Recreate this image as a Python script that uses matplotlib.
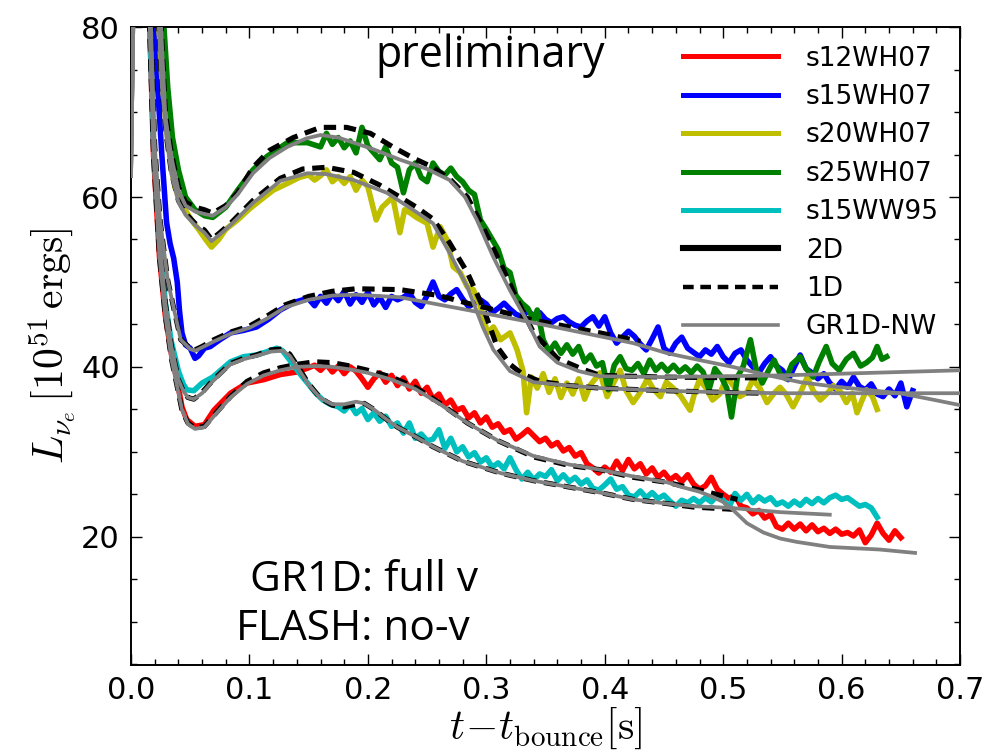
import matplotlib
matplotlib.use('Agg')
import matplotlib.pyplot as plt
from matplotlib.lines import Line2D
from matplotlib.ticker import MultipleLocator

plt.rcParams['mathtext.fontset'] = 'cm'
plt.rcParams['font.family'] = 'DejaVu Sans'

# --- Data: (t - t_bounce [s], L_nue [1e51 erg/s]) ---
LABELS = ['s12WH07', 's15WH07', 's20WH07', 's25WH07', 's15WW95']
COLORS = ['r', 'b', 'y', 'g', 'c']

# s12WH07
S12_2D = [(0.015, 84), (0.019, 65), (0.024, 53), (0.029, 46), (0.034, 41.6), (0.040, 37.6), (0.043, 35.3),
          (0.047, 33.8), (0.054, 33.0), (0.062, 33.2), (0.070, 34.9), (0.084, 36.9), (0.098, 38.1), (0.112, 38.5),
          (0.126, 39.1), (0.140, 39.4), (0.150, 39.9),
          (0.155, 40.2), (0.160, 39.6), (0.165, 40.3), (0.170, 39.4), (0.175, 40.1), (0.180, 39.2), (0.185, 40.0),
          (0.190, 39.5), (0.195, 38.6), (0.200, 37.6), (0.205, 38.6), (0.210, 39.3), (0.215, 38.2), (0.220, 39.0),
          (0.225, 37.8), (0.230, 38.7), (0.235, 37.4), (0.240, 38.3), (0.245, 36.9), (0.250, 37.6), (0.255, 36.2),
          (0.260, 36.8), (0.265, 35.5), (0.270, 36.1), (0.275, 34.9), (0.280, 35.2), (0.285, 34.0), (0.290, 34.6),
          (0.295, 33.4), (0.300, 34.1), (0.305, 32.9), (0.310, 33.3), (0.315, 32.3), (0.320, 32.6), (0.325, 31.5),
          (0.330, 32.0), (0.335, 32.6), (0.340, 31.9), (0.345, 31.2), (0.350, 31.6), (0.355, 30.7), (0.360, 31.1),
          (0.365, 30.1), (0.370, 30.5), (0.375, 29.5), (0.380, 29.9), (0.385, 28.6), (0.390, 28.1), (0.395, 27.5),
          (0.400, 28.2), (0.405, 27.6), (0.410, 28.9), (0.415, 27.8), (0.420, 29.1), (0.425, 28.0), (0.430, 28.6),
          (0.435, 27.4), (0.440, 28.1), (0.445, 27.0), (0.450, 27.6), (0.455, 26.7), (0.460, 27.2), (0.465, 26.5),
          (0.470, 27.3), (0.475, 26.2), (0.480, 25.6), (0.485, 26.0), (0.490, 27.0), (0.495, 25.6), (0.500, 25.0),
          (0.505, 24.5), (0.510, 24.9), (0.515, 23.6), (0.520, 23.4), (0.525, 22.7), (0.530, 23.1), (0.535, 22.2),
          (0.540, 22.6), (0.545, 21.2), (0.550, 20.9), (0.555, 21.6), (0.560, 20.9), (0.565, 21.5), (0.570, 20.7),
          (0.575, 21.4), (0.580, 20.6), (0.585, 21.0), (0.590, 20.4), (0.595, 20.9), (0.600, 20.3), (0.605, 20.5),
          (0.610, 20.1), (0.615, 20.8), (0.620, 19.3), (0.625, 20.2), (0.630, 21.6), (0.635, 20.4), (0.640, 19.6),
          (0.645, 20.7), (0.650, 19.9)]
S12_1D = [(0.015, 84), (0.019, 65), (0.024, 53), (0.029, 46), (0.034, 41), (0.040, 37), (0.043, 34.9), (0.048, 33.4),
          (0.054, 32.8), (0.062, 33.0), (0.070, 34.3), (0.084, 36.5), (0.098, 38.3), (0.112, 39.3), (0.126, 39.9),
          (0.140, 40.3), (0.155, 40.6), (0.170, 40.5), (0.185, 40.1), (0.200, 39.6), (0.220, 38.8), (0.240, 37.6),
          (0.260, 35.8), (0.284, 33.4), (0.310, 31.3), (0.340, 29.4), (0.370, 28.4), (0.396, 27.9), (0.424, 27.0),
          (0.453, 26.4), (0.480, 25.5), (0.500, 24.8), (0.512, 24.4)]
S12_GR = [(0.0, 62.5), (0.004, 100), (0.015, 84), (0.019, 65), (0.024, 53), (0.029, 46), (0.034, 41), (0.040, 37),
          (0.043, 35.0), (0.048, 33.3), (0.054, 32.7), (0.062, 32.9), (0.070, 34.2), (0.084, 36.4), (0.098, 38.0),
          (0.112, 39.0), (0.126, 39.6), (0.140, 40.0), (0.155, 40.1), (0.170, 40.0), (0.185, 39.7), (0.200, 39.3),
          (0.220, 38.5), (0.240, 37.4), (0.260, 35.7), (0.284, 33.4), (0.310, 31.3), (0.340, 29.5), (0.370, 28.5),
          (0.396, 27.9), (0.424, 27.1), (0.453, 26.4), (0.464, 25.9), (0.480, 25.3), (0.491, 24.7), (0.500, 24.1),
          (0.508, 23.2), (0.520, 21.6), (0.534, 20.5), (0.548, 19.8), (0.562, 19.4), (0.590, 18.8), (0.632, 18.5),
          (0.662, 18.1)]

# s15WH07
S15_2D = [(0.017, 84), (0.022, 74), (0.026, 65), (0.030, 57), (0.033, 54.5), (0.036, 52.8), (0.039, 50),
          (0.041, 46.5), (0.043, 44), (0.046, 42.6), (0.050, 42.2), (0.054, 41.0), (0.057, 41.3), (0.062, 42.2),
          (0.067, 42.4), (0.075, 43.2), (0.084, 44.0), (0.095, 44.3), (0.106, 44.7), (0.116, 45.6), (0.126, 46.7),
          (0.138, 47.6), (0.145, 47.9),
          (0.150, 48.0), (0.155, 47.2), (0.160, 48.3), (0.165, 47.5), (0.170, 48.6), (0.175, 47.8), (0.180, 48.9),
          (0.185, 47.4), (0.190, 48.5), (0.195, 47.6), (0.200, 48.8), (0.205, 47.3), (0.210, 48.2), (0.215, 47.0),
          (0.220, 48.3), (0.225, 47.9), (0.230, 48.2), (0.235, 48.7), (0.240, 47.6), (0.245, 47.1), (0.250, 48.4),
          (0.255, 50.0), (0.260, 48.3), (0.265, 47.9), (0.270, 48.6), (0.275, 49.1), (0.280, 48.0), (0.285, 47.1),
          (0.290, 47.5), (0.295, 47.9), (0.300, 47.4), (0.305, 46.4), (0.310, 46.9), (0.315, 47.5), (0.320, 46.8),
          (0.325, 46.2), (0.330, 45.9), (0.335, 46.6), (0.340, 46.0), (0.345, 46.4), (0.350, 45.6), (0.355, 45.2),
          (0.360, 45.7), (0.365, 45.9), (0.370, 45.3), (0.375, 44.9), (0.380, 44.7), (0.385, 45.4), (0.390, 45.9),
          (0.395, 44.8), (0.400, 45.9), (0.405, 44.0), (0.410, 42.8), (0.415, 43.5), (0.420, 44.2), (0.425, 43.6),
          (0.430, 42.7), (0.435, 42.0), (0.440, 43.3), (0.445, 44.7), (0.450, 42.2), (0.455, 41.6), (0.460, 42.8),
          (0.465, 43.5), (0.470, 42.2), (0.475, 41.7), (0.480, 41.2), (0.485, 42.0), (0.490, 41.5), (0.495, 42.4),
          (0.500, 41.2), (0.505, 40.5), (0.510, 41.6), (0.515, 42.0), (0.520, 40.8), (0.525, 40.0), (0.530, 39.3),
          (0.535, 40.4), (0.540, 41.2), (0.545, 40.1), (0.550, 39.6), (0.555, 38.5), (0.560, 40.0), (0.565, 41.4),
          (0.570, 39.8), (0.575, 39.3), (0.580, 38.6), (0.585, 39.2), (0.590, 38.1), (0.595, 37.4), (0.600, 38.3),
          (0.605, 37.6), (0.610, 38.8), (0.615, 37.7), (0.620, 37.3), (0.625, 38.0), (0.630, 36.8), (0.635, 36.5),
          (0.640, 37.4), (0.645, 36.6), (0.650, 38.1), (0.655, 35.3), (0.660, 37.2)]
S15_1D = [(0.016, 84), (0.020, 66), (0.0245, 57.3), (0.031, 50.2), (0.037, 46.3), (0.042, 43.2), (0.050, 42.2),
          (0.054, 42.0), (0.060, 42.4), (0.070, 43.2), (0.084, 44.1), (0.100, 44.8), (0.115, 46.0), (0.130, 47.3),
          (0.150, 48.3), (0.170, 48.9), (0.190, 49.2), (0.227, 49.1), (0.260, 48.4), (0.284, 47.5), (0.310, 46.6),
          (0.340, 45.5), (0.370, 44.7), (0.396, 44.0), (0.430, 43.0)]
S15_GR = [(0.0, 62.5), (0.004, 100), (0.016, 84), (0.020, 66), (0.0245, 57.3), (0.031, 50.2), (0.037, 46.3),
          (0.042, 43.2), (0.050, 42.1), (0.054, 41.9), (0.060, 42.3), (0.070, 43.0), (0.084, 43.9), (0.100, 44.6),
          (0.115, 45.7), (0.130, 47.0), (0.150, 47.9), (0.170, 48.4), (0.190, 48.5), (0.227, 48.2), (0.284, 46.7),
          (0.340, 45.2), (0.396, 43.6), (0.424, 42.8), (0.453, 41.6), (0.480, 40.8), (0.508, 40.0), (0.535, 39.1),
          (0.565, 38.2), (0.593, 37.7), (0.621, 37.3), (0.649, 36.9), (0.675, 36.2), (0.700, 35.5)]

# s20WH07
S20_2D = [(0.022, 84), (0.026, 74), (0.030, 68), (0.034, 63.5), (0.037, 61.2), (0.042, 59.3), (0.051, 57.3),
          (0.057, 56.2), (0.063, 55.0), (0.068, 54.1), (0.074, 55.0), (0.080, 56.2), (0.090, 57.3), (0.100, 58.6),
          (0.109, 59.6), (0.120, 60.8), (0.132, 61.6), (0.142, 62.3),
          (0.150, 62.6), (0.155, 62.0), (0.160, 62.5), (0.165, 63.2), (0.170, 61.8), (0.175, 62.4), (0.180, 61.6),
          (0.185, 62.4), (0.190, 60.8), (0.195, 62.0), (0.200, 61.2), (0.207, 57.3), (0.212, 58.8), (0.221, 60.0),
          (0.227, 55.8), (0.231, 58.5), (0.236, 58.1), (0.241, 57.6), (0.250, 56.9), (0.255, 54.1), (0.261, 56.5),
          (0.267, 54.9), (0.272, 51.8), (0.278, 51.1), (0.284, 49.4), (0.289, 49.1), (0.295, 47.1), (0.301, 44.0),
          (0.306, 44.7), (0.312, 43.2), (0.320, 44.0), (0.326, 42.0), (0.331, 39.5), (0.334, 34.6), (0.338, 38.8),
          (0.343, 37.5), (0.348, 39.2), (0.353, 37.0), (0.358, 38.6), (0.363, 36.4), (0.368, 38.1), (0.373, 36.8),
          (0.378, 38.6), (0.383, 36.2), (0.388, 37.9), (0.396, 39.3), (0.402, 36.5), (0.407, 38.0), (0.413, 39.6),
          (0.418, 37.2), (0.424, 35.8), (0.430, 37.0), (0.436, 38.6), (0.441, 37.4), (0.447, 36.5), (0.452, 38.2),
          (0.457, 37.6), (0.464, 36.6), (0.472, 34.9), (0.476, 37.0), (0.480, 38.5), (0.486, 37.4), (0.491, 36.1),
          (0.497, 36.8), (0.503, 38.8), (0.509, 37.7), (0.514, 36.5), (0.520, 37.0), (0.525, 38.5), (0.531, 37.5),
          (0.537, 35.8), (0.543, 36.9), (0.548, 37.6), (0.553, 36.8), (0.559, 35.3), (0.565, 36.9), (0.571, 38.8),
          (0.576, 37.2), (0.582, 36.1), (0.588, 36.9), (0.593, 37.8), (0.599, 37.1), (0.604, 35.8), (0.609, 36.9),
          (0.613, 34.6), (0.617, 36.0), (0.621, 37.3), (0.626, 36.5), (0.630, 35.0)]
S20_1D = [(0.022, 84), (0.026, 73), (0.030, 67), (0.034, 63), (0.040, 59.6), (0.046, 58.1), (0.054, 56.9),
          (0.062, 56.1), (0.068, 55.0), (0.075, 55.8), (0.084, 56.9), (0.103, 59.6), (0.126, 62.2), (0.145, 63.3),
          (0.165, 63.5), (0.188, 62.9), (0.210, 61.4), (0.227, 60.0), (0.241, 58.8), (0.255, 57.4), (0.269, 54.6),
          (0.284, 51.1), (0.297, 47.1), (0.309, 42.4), (0.320, 40.3), (0.330, 39.2), (0.345, 38.3), (0.370, 37.8),
          (0.396, 37.5), (0.450, 37.2), (0.500, 37.0), (0.534, 36.9)]
S20_GR = [(0.0, 62.5), (0.004, 100), (0.022, 84), (0.026, 73), (0.030, 67), (0.034, 62.8), (0.040, 59.4),
          (0.046, 57.9), (0.054, 56.7), (0.062, 55.8), (0.068, 54.8), (0.075, 55.6), (0.084, 56.7), (0.103, 59.3),
          (0.126, 61.9), (0.149, 62.8), (0.165, 62.7), (0.188, 62.0), (0.216, 60.5), (0.238, 58.5), (0.255, 56.9),
          (0.269, 53.4), (0.284, 49.4), (0.297, 44.7), (0.306, 42.0), (0.320, 39.5), (0.340, 38.2), (0.370, 37.8),
          (0.396, 37.5), (0.450, 37.2), (0.500, 37.0), (0.550, 36.9), (0.600, 36.9), (0.650, 36.9), (0.700, 36.9)]

# s25WH07
S25_2D = [(0.026, 84), (0.031, 72.9), (0.035, 67), (0.040, 63.2), (0.046, 60), (0.054, 58.5), (0.062, 57.8),
          (0.069, 57.6), (0.080, 58.8), (0.090, 60.8), (0.103, 63.2), (0.115, 64.8), (0.132, 66.4), (0.149, 66.4),
          (0.160, 65.9), (0.165, 67.5), (0.170, 66.2), (0.175, 67.0), (0.180, 65.8), (0.185, 66.6), (0.190, 65.2),
          (0.195, 68.2), (0.200, 66.0), (0.205, 65.2), (0.210, 64.4), (0.215, 65.9), (0.220, 64.0), (0.225, 63.5),
          (0.230, 60.5), (0.235, 63.2), (0.240, 64.0), (0.245, 62.3), (0.250, 61.8), (0.255, 64.0), (0.260, 63.0),
          (0.265, 62.6), (0.270, 63.4), (0.275, 62.4), (0.280, 61.8), (0.285, 60.8), (0.290, 60.3), (0.295, 57.3),
          (0.300, 56.2), (0.305, 55.0), (0.310, 53.8), (0.315, 51.6), (0.320, 51.1), (0.325, 48.4), (0.330, 47.5),
          (0.335, 46.9), (0.340, 45.5), (0.343, 46.7), (0.348, 43.2), (0.353, 41.8), (0.358, 42.8), (0.363, 41.6),
          (0.368, 42.6), (0.373, 41.5), (0.378, 42.4), (0.383, 40.6), (0.388, 41.4), (0.393, 40.1), (0.398, 40.5),
          (0.403, 37.3), (0.408, 40.2), (0.413, 41.2), (0.418, 39.8), (0.423, 39.6), (0.428, 40.4), (0.433, 39.2),
          (0.438, 40.8), (0.443, 39.6), (0.448, 40.3), (0.453, 39.5), (0.458, 40.2), (0.463, 39.4), (0.468, 40.0),
          (0.473, 39.3), (0.478, 40.1), (0.483, 39.4), (0.488, 37.3), (0.493, 39.8), (0.498, 38.9), (0.503, 37.5),
          (0.507, 34.1), (0.512, 38.8), (0.517, 40.1), (0.523, 43.2), (0.528, 39.6), (0.533, 38.1), (0.538, 39.5),
          (0.543, 40.8), (0.548, 39.2), (0.553, 38.6), (0.558, 40.3), (0.565, 41.2), (0.570, 39.8), (0.576, 38.8),
          (0.581, 40.6), (0.587, 42.4), (0.592, 40.4), (0.598, 39.6), (0.604, 40.9), (0.610, 41.6), (0.616, 40.1),
          (0.621, 40.5), (0.626, 41.1), (0.630, 42.4), (0.634, 40.9), (0.638, 41.2)]
S25_1D = [(0.024, 84), (0.029, 69.9), (0.034, 65.2), (0.040, 61.2), (0.046, 59.4), (0.054, 58.8), (0.062, 58.5),
          (0.069, 58.1), (0.080, 59.0), (0.090, 60.5), (0.103, 63.5), (0.117, 65.5), (0.137, 67.0), (0.160, 68.2),
          (0.182, 68.2), (0.202, 67.5), (0.221, 65.9), (0.238, 64.6), (0.255, 63.5), (0.270, 62.0), (0.284, 60.0),
          (0.297, 56.5), (0.312, 52.2), (0.326, 47.9), (0.340, 44.0), (0.360, 41.0), (0.380, 39.8), (0.396, 39.0),
          (0.450, 38.8), (0.531, 38.7)]
S25_GR = [(0.0, 62.5), (0.004, 100), (0.024, 84), (0.029, 69.5), (0.034, 64.8), (0.040, 60.8), (0.046, 59.0),
          (0.054, 58.3), (0.062, 58.0), (0.069, 57.8), (0.080, 58.8), (0.090, 60.3), (0.103, 62.8), (0.117, 64.6),
          (0.132, 65.9), (0.148, 66.9), (0.160, 67.3), (0.175, 67.0), (0.188, 66.4), (0.205, 65.6), (0.227, 64.4),
          (0.250, 63.3), (0.269, 62.0), (0.282, 60.0), (0.292, 57.3), (0.306, 52.9), (0.320, 49.0), (0.334, 45.5),
          (0.345, 42.4), (0.360, 40.5), (0.378, 39.5), (0.396, 38.9), (0.450, 38.8), (0.500, 38.9), (0.550, 39.0),
          (0.600, 39.2), (0.650, 39.4), (0.700, 39.6)]

# s15WW95
W95_2D = [(0.015, 84), (0.019, 66), (0.024, 55), (0.029, 47.5), (0.034, 43), (0.040, 39.5), (0.044, 38.0),
          (0.047, 37.3), (0.053, 37.2), (0.060, 38.1), (0.069, 38.8), (0.084, 40.6), (0.095, 41.2), (0.106, 41.4),
          (0.115, 41.8), (0.123, 42.2), (0.128, 41.9), (0.134, 40.8), (0.142, 39.3), (0.149, 38.1), (0.156, 36.9),
          (0.162, 36.1), (0.168, 35.6),
          (0.175, 35.3), (0.180, 34.8), (0.185, 35.6), (0.190, 34.5), (0.195, 35.1), (0.200, 33.8), (0.205, 34.6),
          (0.210, 33.6), (0.215, 34.2), (0.220, 33.0), (0.225, 33.4), (0.230, 32.2), (0.235, 33.4), (0.240, 31.6),
          (0.245, 32.1), (0.250, 31.3), (0.255, 31.5), (0.260, 32.6), (0.265, 30.4), (0.270, 31.6), (0.275, 30.0),
          (0.280, 30.6), (0.285, 29.4), (0.290, 29.9), (0.295, 28.8), (0.300, 29.3), (0.305, 28.2), (0.310, 28.7),
          (0.315, 28.0), (0.320, 29.3), (0.325, 27.9), (0.330, 26.8), (0.335, 27.6), (0.340, 26.7), (0.345, 27.4),
          (0.350, 27.1), (0.355, 27.9), (0.360, 26.6), (0.365, 27.3), (0.370, 26.5), (0.375, 27.0), (0.380, 26.2),
          (0.385, 26.7), (0.390, 25.7), (0.395, 25.5), (0.400, 26.1), (0.405, 26.8), (0.410, 25.6), (0.415, 25.9),
          (0.420, 24.9), (0.425, 24.7), (0.430, 25.4), (0.435, 24.6), (0.440, 25.2), (0.445, 24.5), (0.450, 24.9),
          (0.455, 24.2), (0.460, 23.6), (0.465, 24.3), (0.470, 24.0), (0.475, 24.5), (0.480, 24.0), (0.485, 24.6),
          (0.490, 24.1), (0.495, 24.9), (0.500, 24.3), (0.505, 23.5), (0.510, 25.1), (0.515, 24.3), (0.520, 25.0),
          (0.525, 24.0), (0.530, 24.7), (0.535, 24.2), (0.540, 24.6), (0.545, 23.8), (0.550, 24.1), (0.555, 23.6),
          (0.560, 24.2), (0.565, 23.7), (0.570, 24.4), (0.575, 23.9), (0.580, 24.5), (0.585, 24.0), (0.590, 24.6),
          (0.595, 24.9), (0.600, 24.4), (0.605, 24.6), (0.610, 24.1), (0.615, 23.6), (0.620, 23.8), (0.625, 23.4),
          (0.630, 22.3)]
W95_1D = [(0.015, 84), (0.019, 66), (0.024, 55), (0.029, 47.5), (0.034, 42.5), (0.040, 38.5), (0.044, 37.2),
          (0.048, 36.4), (0.053, 36.2), (0.060, 37.0), (0.069, 38.4), (0.084, 40.4), (0.095, 41.0), (0.106, 41.4),
          (0.118, 42.0), (0.128, 42.1), (0.134, 41.5), (0.142, 39.8), (0.150, 38.0), (0.160, 36.3), (0.170, 35.5),
          (0.180, 35.3), (0.190, 35.6), (0.197, 35.7), (0.205, 35.0), (0.215, 33.9), (0.225, 32.9), (0.240, 31.8),
          (0.255, 30.6), (0.280, 28.9), (0.312, 27.5), (0.340, 26.6), (0.368, 25.9), (0.396, 25.2), (0.424, 24.4),
          (0.453, 23.9), (0.475, 23.5), (0.500, 23.3), (0.513, 23.2)]
W95_GR = [(0.0, 62.5), (0.004, 100), (0.015, 84), (0.019, 66), (0.024, 55), (0.029, 47.5), (0.034, 42.5),
          (0.040, 38.5), (0.044, 37.2), (0.048, 36.4), (0.053, 36.2), (0.060, 36.9), (0.069, 38.3), (0.084, 40.3),
          (0.095, 40.9), (0.106, 41.3), (0.118, 41.8), (0.128, 41.9), (0.134, 41.3), (0.142, 39.6), (0.150, 37.9),
          (0.160, 36.3), (0.170, 35.6), (0.180, 35.6), (0.190, 35.9), (0.197, 35.7), (0.205, 35.0), (0.215, 33.9),
          (0.225, 32.9), (0.240, 31.8), (0.255, 30.6), (0.280, 28.9), (0.312, 27.5), (0.340, 26.6), (0.368, 25.9),
          (0.396, 25.2), (0.424, 24.4), (0.453, 23.9), (0.475, 23.6), (0.506, 23.4), (0.548, 22.9), (0.590, 22.6)]

RUNS_2D = [S12_2D, S15_2D, S20_2D, S25_2D, W95_2D]
RUNS_1D = [S12_1D, S15_1D, S20_1D, S25_1D, W95_1D]
RUNS_GR = [S12_GR, S15_GR, S20_GR, S25_GR, W95_GR]

GRAY = '#808080'
DASH = (0, (2.4, 1.5))

fig = plt.figure(figsize=(10.01, 7.54), dpi=100)
ax = fig.add_axes([0.1309, 0.118, 0.8282, 0.846])

for run, col in zip(RUNS_2D, COLORS):
    t, lum = zip(*run)
    ax.plot(t, lum, color=col, lw=4.0, zorder=2, solid_joinstyle='round')
for run in RUNS_1D:
    t, lum = zip(*run)
    ax.plot(t, lum, color='k', lw=3.7, ls=DASH, zorder=3)
for run in RUNS_GR:
    t, lum = zip(*run)
    ax.plot(t, lum, color=GRAY, lw=2.7, zorder=4)

ax.set_xlim(0.0, 0.7)
ax.set_ylim(4.9, 80)
ax.set_xticks([0.0, 0.1, 0.2, 0.3, 0.4, 0.5, 0.6, 0.7])
ax.set_yticks([20, 40, 60, 80])
ax.xaxis.set_minor_locator(MultipleLocator(0.02))
ax.yaxis.set_minor_locator(MultipleLocator(5))
ax.tick_params(which='both', direction='in', top=True, right=True, labelsize=22, pad=8)
ax.tick_params(which='major', length=8, width=1)
ax.tick_params(which='minor', length=4, width=1)
for sp in ax.spines.values():
    sp.set_linewidth(1.4)

ax.set_xlabel(r'$t\!-\!t_{\mathrm{bounce}}[\mathrm{s}]$', fontsize=30, labelpad=0)
ax.set_ylabel(r'$L_{\nu_e}\,[10^{51}\,\mathrm{ergs}]$', fontsize=30, labelpad=2)

ax.text(0.433, 0.955, 'preliminary', transform=ax.transAxes, ha='center', va='center',
        fontsize=31, family='Open Sans')
ax.text(0.281, 0.133, 'GR1D: full v', transform=ax.transAxes, ha='center', va='center',
        fontsize=30.5, family='Open Sans')
ax.text(0.268, 0.056, 'FLASH: no-v', transform=ax.transAxes, ha='center', va='center',
        fontsize=30.5, family='Open Sans')

handles = [Line2D([], [], color=c, lw=3.6) for c in COLORS]
handles += [Line2D([], [], color='k', lw=4.4),
            Line2D([], [], color='k', lw=3.2, ls=DASH),
            Line2D([], [], color=GRAY, lw=2.6)]
names = LABELS + ['2D', '1D', 'GR1D-NW']
ax.legend(handles, names, loc='upper left', bbox_to_anchor=(0.666, 0.971), frameon=False,
          fontsize=19, handlelength=3.6, handletextpad=1.05, labelspacing=0.47,
          borderpad=0, borderaxespad=0)

fig.savefig('out.png', dpi=100)
